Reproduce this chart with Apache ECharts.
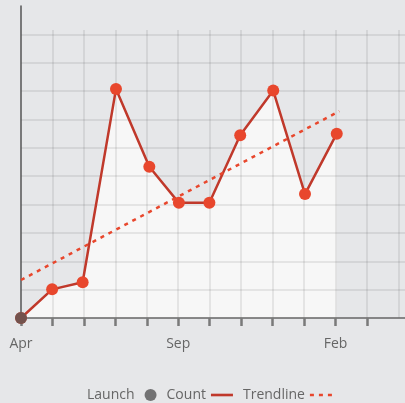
<!DOCTYPE html>
<html>
<head>
<meta charset="utf-8">
<script src="https://cdn.jsdelivr.net/npm/echarts@6/dist/echarts.min.js"></script>
<style>
html,body{margin:0;padding:0;background:#e6e7e9;}
#c{width:405px;height:403px;}
</style>
</head>
<body>
<div id="c"></div>
<script>
const months = ['Apr','May','Jun','Jul','Aug','Sep','Oct','Nov','Dec','Jan','Feb','Mar'];
const labelIdx = [0, 5, 10];
const countX = [0, 0.99, 1.96, 3.02, 4.08, 5.02, 5.99, 6.97, 8.02, 9.03, 10.04];
const countY = [0, 1.01, 1.26, 8.07, 5.33, 4.06, 4.06, 6.44, 8.02, 4.37, 6.5];
const launchX = [0];
const launchY = [0];
const trendX = [0, 10.12];
const trendY = [1.34, 7.29];

const zip = (a, b) => a.map((v, i) => [v, b[i]]);
const tickIdx = months.map((m, i) => i);
const gridColor = 'rgba(0,0,0,0.1)';

const chart = echarts.init(document.getElementById('c'), null, {renderer: 'canvas'});
chart.setOption({
  backgroundColor: '#e6e7e9',
  animation: false,
  textStyle: {fontFamily: 'Open Sans'},
  grid: [
    {left: 21, right: 0, top: 6, bottom: 85, containLabel: false},
    {left: 21, right: 0, top: 30, bottom: 85, containLabel: false}
  ],
  xAxis: [{
    type: 'value', min: 0, max: 12.21, interval: 1, z: 2, gridIndex: 0,
    axisLine: {show: true, lineStyle: {color: '#666', width: 1.5}},
    axisTick: {show: true, customValues: tickIdx, length: 8, lineStyle: {color: '#7a7a7a', width: 2.5}},
    axisLabel: {customValues: labelIdx, formatter: v => months[Math.round(v)], color: '#666', fontSize: 14, margin: 19, fontFamily: 'Open Sans'},
    splitLine: {show: false}
  }, {
    type: 'value', min: 0, max: 12.21, interval: 1, z: 2, gridIndex: 1,
    axisLine: {show: false}, axisTick: {show: false}, axisLabel: {show: false},
    splitLine: {show: true, showMinLine: false, showMaxLine: false, lineStyle: {color: gridColor, width: 1.5}}
  }],
  yAxis: [{
    type: 'value', min: 0, max: 11, interval: 1, z: 2, gridIndex: 0,
    axisLine: {show: true, lineStyle: {color: '#555', width: 1.5}},
    axisTick: {show: false},
    axisLabel: {show: false},
    splitLine: {show: true, showMinLine: false, showMaxLine: false, lineStyle: {color: gridColor, width: 1.5}}
  }, {
    type: 'value', min: 0, max: 10, gridIndex: 1, show: false
  }],
  legend: {
    left: 82, top: 383, selectedMode: false, align: 'right',
    itemWidth: 22, itemHeight: 12, itemGap: 10,
    textStyle: {color: '#666', fontSize: 14, fontFamily: 'Open Sans'},
    data: [
      {name: 'Launch', icon: 'circle', itemStyle: {color: '#555'}},
      {name: 'Count', icon: 'path://M0,0H21V2.5H0Z', itemStyle: {color: '#c0392b', borderWidth: 0}, lineStyle: {width: 0}},
      {name: 'Trendline', icon: 'path://M0,0H4V2.5H0Z M9,0H13V2.5H9Z M18,0H22V2.5H18Z', itemStyle: {color: '#e8472d', borderWidth: 0}, lineStyle: {width: 0}}
    ]
  },
  series: [
    {
      name: 'CountArea', type: 'line', z: 1, data: zip(countX, countY),
      symbol: 'none', lineStyle: {width: 0, opacity: 0},
      areaStyle: {color: '#f7f7f7', opacity: 1}, silent: true
    },
    {
      name: 'Count', type: 'line', z: 3, data: zip(countX, countY),
      symbol: 'circle', symbolSize: 12,
      itemStyle: {color: '#e8472d'},
      lineStyle: {color: '#c0392b', width: 2.5}
    },
    {
      name: 'Trendline', type: 'line', z: 3, data: zip(trendX, trendY),
      symbol: 'none', itemStyle: {color: '#e8472d'},
      lineStyle: {color: '#e8472d', width: 2.5, type: [4, 5]}
    },
    {
      name: 'Launch', type: 'scatter', z: 4, data: zip(launchX, launchY),
      symbol: 'circle', symbolSize: 12, itemStyle: {color: '#555'}
    }
  ]
});
</script>
</body>
</html>
